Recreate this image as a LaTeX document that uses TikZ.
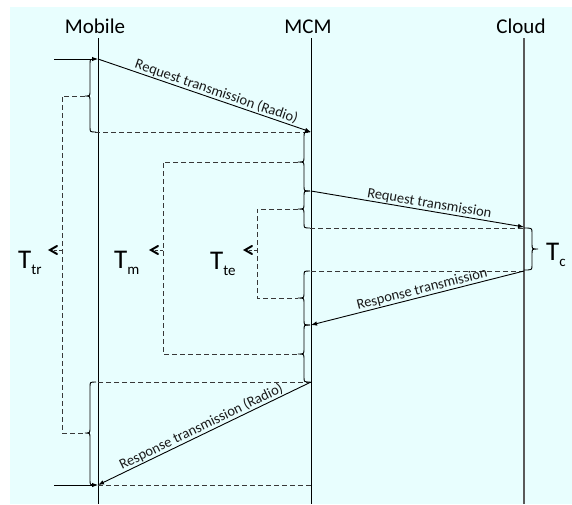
\documentclass[tikz,border=0pt]{standalone}
\usepackage{fontspec}
\setmainfont{Carlito}
\usetikzlibrary{arrows.meta}
\definecolor{bgc}{HTML}{E8FEFE}
\definecolor{dshc}{HTML}{383838}
\definecolor{cldc}{HTML}{5A5A5A}
\definecolor{txtc}{HTML}{1A1A1A}
% #1 end x, #2 spine x, #3 tip x, #4 top y, #5 tip y, #6 bottom y
\newcommand\mybrace[6]{%
  \draw[brc] (#1,#4) .. controls (#2,#4) .. (#2,{#4+5}) -- (#2,{#5-5})
     .. controls (#2,#5) .. (#3,#5) .. controls (#2,#5) .. (#2,{#5+5})
     -- (#2,{#6-5}) .. controls (#2,#6) .. (#1,#6);}
\newcommand\Tlab[1]{{\fontsize{27}{27}\selectfont T}{\fontsize{15}{15}\selectfont\raisebox{-6pt}{#1}}}
\begin{document}
\begin{tikzpicture}[x=1pt,y=-1pt,
  life/.style={line width=1pt},
  msg/.style={line width=0.9pt,-{Latex[length=6pt,width=4.5pt]}},
  dashline/.style={dash pattern=on 5pt off 3pt,line width=1pt,draw=dshc},
  brc/.style={line width=0.9pt},
  lbl/.style={font=\fontsize{14.5}{16}\selectfont,text=txtc,sloped,above,inner sep=0.5pt},
  hdr/.style={font=\fontsize{21}{24}\selectfont,anchor=base,inner sep=0pt},
  tl/.style={anchor=base west,inner sep=0pt},
  side/.style={line width=0.9pt,dash pattern=on 3pt off 2pt,draw=dshc},
  chev/.style={line width=2pt,line cap=round,line join=miter}]
\useasboundingbox (0,0) rectangle (572,504);
\fill[bgc] (10,7) rectangle (572,504);
% headers
\node[hdr] (hm) at (95,33) {Mobile};
\node[hdr] (hc) at (308,33) {MCM};
\node[hdr] (hd) at (521,33) {Cloud};
% lifelines
\coordinate (mob0) at (98,38);  \coordinate (mobE) at (98,504);
\coordinate (mcm0) at (311,38); \coordinate (mcmE) at (311,504);
\coordinate (cld0) at (524,38); \coordinate (cldE) at (524,504);
\draw[life] (mob0) -- (mobE);
\draw[life] (mcm0) -- (mcmE);
\draw[line width=1.5pt,draw=cldc] (cld0) -- (cldE);
% message points
\coordinate (in1) at (54,59);   \coordinate (m1) at (98,59);
\coordinate (c1) at (311,132);
\coordinate (c2) at (311,191);  \coordinate (d1) at (524,227);
\coordinate (d2) at (524,271);  \coordinate (c3) at (311,325);
\coordinate (c4) at (311,382);  \coordinate (m2) at (98,485);
\coordinate (in2) at (54,485);  \coordinate (c5) at (311,485);
% dashed horizontals
\coordinate (mb1) at (95,132);
\draw[dashline] (mb1) -- (c1);
\coordinate (cb3) at (310,228); \coordinate (db) at (524,228);
\draw[dashline] (cb3) -- (db);
\coordinate (dt) at (524,271); \coordinate (cb5) at (310,272);
\draw[dashline] (dt) -- (cb5 |- dt);
\coordinate (mb4) at (95,382);
\draw[dashline] (c4) -- (mb4);
\draw[dashline] (m2) -- (c5);
% braces
\mybrace{96}{90}{85}{59}{96}{132}
\mybrace{96}{90}{85}{382}{433}{485}
\mybrace{310}{304}{298}{132}{162}{191}
\mybrace{310}{304}{298}{191}{209}{228}
\mybrace{310}{304}{298}{271}{298}{325}
\mybrace{310}{304}{298}{325}{354}{382}
\mybrace{524}{532}{538}{228}{249}{270}
% dashed brackets
\coordinate (a1) at (85,96);  \coordinate (a2) at (62,96);
\coordinate (a3) at (62,433); \coordinate (a4) at (85,433);
\draw[dashline] (a1) -- (a2) -- (a3) -- (a4);
\coordinate (b1) at (298,162); \coordinate (b2) at (163,162);
\coordinate (b3) at (163,354); \coordinate (b4) at (298,354);
\draw[dashline] (b1) -- (b2) -- (b3) -- (b4);
\coordinate (e1) at (298,209); \coordinate (e2) at (257,209);
\coordinate (e3) at (257,298); \coordinate (e4) at (298,298);
\draw[dashline] (e1) -- (e2) -- (e3) -- (e4);
% messages
\draw[msg] (in1) -- (m1);
\draw[msg] (m1) -- node[lbl,pos=0.545] {Request transmission (Radio)} (c1);
\draw[msg] (c2) -- node[lbl,pos=0.55] {Request transmission} (d1);
\draw[msg] (d2) -- node[lbl,pos=0.47] {Response transmission} (c3);
\draw[msg] (c4) -- node[lbl,pos=0.5] {Response transmission (Radio)} (m2);
\draw[msg] (in2) -- (m2);
% side arrows and labels
\coordinate (s1) at (62,250); \coordinate (s1e) at (50,250);
\coordinate (s2) at (163,250); \coordinate (s2e) at (151,250);
\coordinate (s3) at (257,250); \coordinate (s3e) at (245,250);
\draw[side] (s1) -- (s1e);
\draw[side] (s2) -- (s2e);
\draw[side] (s3) -- (s3e);
\draw[chev] ([shift={(7,-4)}]s1e) -- (s1e) -- ([shift={(7,4)}]s1e);
\draw[chev] ([shift={(7,-4)}]s2e) -- (s2e) -- ([shift={(7,4)}]s2e);
\draw[chev] ([shift={(7,-4)}]s3e) -- (s3e) -- ([shift={(7,4)}]s3e);
\node[tl] (ttr) at (18,268) {\Tlab{tr}};
\node[tl] (tm) at (114,268) {\Tlab{m}};
\node[tl] (tte) at (210,269) {\Tlab{te}};
\node[tl] (tc) at (546,260) {\Tlab{c}};
\end{tikzpicture}
\end{document}
